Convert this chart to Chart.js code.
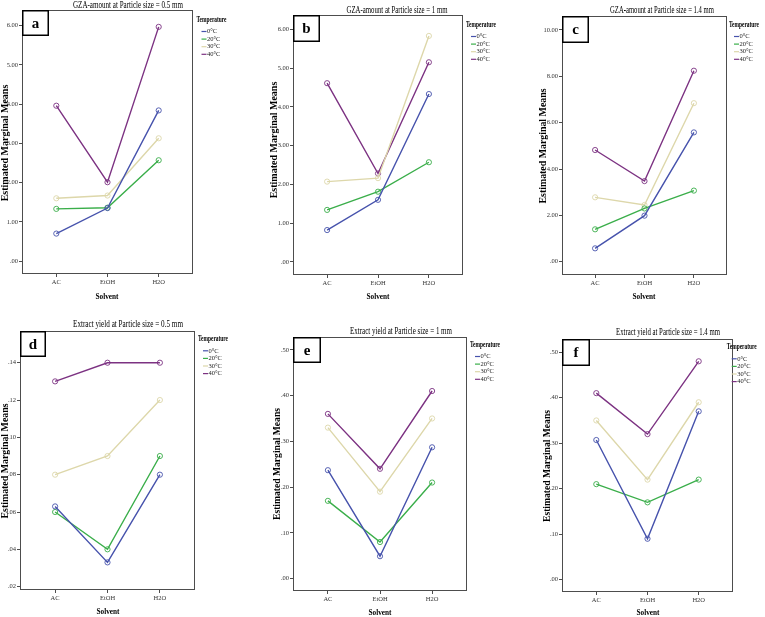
<!DOCTYPE html>
<html>
<head>
<meta charset="utf-8">
<script src="https://cdn.jsdelivr.net/npm/chart.js@4.4.1/dist/chart.umd.min.js"></script>
<style>
  body { margin: 0; background: #fff; }
  #wrap { position: relative; width: 765px; height: 617px; }
  #wrap canvas { position: absolute; left: 0; top: 0; }
</style>
</head>
<body>
<div id="wrap"></div>
<script>
// categories
const solvents = ['AC', 'EtOH', 'H2O'];
const temps = ['0°C', '20°C', '30°C', '40°C'];

// GZA-amount, one row per temperature (0, 20, 30, 40 °C)
const gza05 = [[0.70, 1.35, 3.84], [1.33, 1.36, 2.57], [1.60, 1.67, 3.13], [3.96, 2.01, 5.97]];
const gza1 = [[0.82, 1.60, 4.33], [1.34, 1.81, 2.57], [2.07, 2.16, 5.83], [4.61, 2.28, 5.15]];
const gza14 = [[0.58, 1.99, 5.58], [1.40, 2.30, 3.07], [2.78, 2.45, 6.84], [4.82, 3.48, 8.24]];

// extract yield
const yield05 = [[.063, .033, .080], [.060, .040, .090], [.080, .090, .120], [.130, .140, .140]];
const yield1 = [[.237, .049, .287], [.170, .080, .210], [.330, .190, .350], [.360, .240, .410]];
const yield14 = [[.307, .090, .370], [.210, .170, .220], [.350, .220, .390], [.410, .320, .480]];

// tick values
const ticksGza = [0, 1, 2, 3, 4, 5, 6];
const ticksGza14 = [0, 2, 4, 6, 8, 10];
const ticksYield05 = [.02, .04, .06, .08, .10, .12, .14];
const ticksYield = [0, .1, .2, .3, .4, .5];

const lineColors = ['#4652ac', '#3aae4a', '#ddd7aa', '#7c3282'];
const serif = "'Liberation Serif', 'DejaVu Serif', serif";

// spss style: .50 instead of 0.50
function spss(v) {
  return v.toFixed(2).replace(/^0\./, '.');
}

// draws text squeezed to a given width (the figure uses a narrow font)
function fitText(ctx, txt, x, y, w, font, rot) {
  ctx.save();
  ctx.font = font;
  const m = ctx.measureText(txt).width;
  ctx.translate(x, y);
  if (rot) ctx.rotate(-Math.PI / 2);
  ctx.scale(Math.min(1, w / m), 1);
  ctx.textAlign = 'center';
  ctx.textBaseline = 'middle';
  ctx.fillText(txt, 0, 0);
  ctx.restore();
}

function makeDecor(p) {
  return {
    id: 'decor',
    afterDraw(chart) {
      const ctx = chart.ctx;
      const a = chart.chartArea;
      ctx.save();
      // frame round the plot
      ctx.strokeStyle = '#4d4d4d';
      ctx.lineWidth = 1;
      ctx.strokeRect(a.left + 0.5, a.top + 0.5, a.right - a.left - 1, a.bottom - a.top - 1);

      // panel letter
      ctx.fillStyle = '#fff';
      ctx.fillRect(a.left, a.top, p.letterBox[0], p.letterBox[1]);
      ctx.strokeStyle = '#000';
      ctx.lineWidth = 1.5;
      ctx.strokeRect(a.left + 0.75, a.top + 0.75, p.letterBox[0] - 1.5, p.letterBox[1] - 1.5);
      ctx.fillStyle = '#000';
      ctx.font = 'bold 15px ' + serif;
      ctx.textAlign = 'center';
      ctx.textBaseline = 'middle';
      ctx.fillText(p.letter, a.left + p.letterBox[0] / 2, a.top + p.letterBox[1] / 2 + 1);

      // titles
      fitText(ctx, p.title, p.titlePos[0], p.titlePos[1], p.titlePos[2], '10px ' + serif);
      fitText(ctx, 'Estimated Marginal Means', p.yLab[0], p.yLab[1], p.yLab[2], 'bold 10px ' + serif, true);
      fitText(ctx, 'Solvent', p.xLab[0], p.xLab[1], 23, 'bold 9px ' + serif);

      // legend
      const lx = p.legend[0], ly = p.legend[1];
      ctx.fillStyle = '#000';
      fitText(ctx, 'Temperature', lx + 15, ly, 30, 'bold 8px ' + serif);
      temps.forEach((t, i) => {
        const y = ly + 11.5 + i * 7.6;
        ctx.strokeStyle = lineColors[i];
        ctx.lineWidth = 1.2;
        ctx.beginPath();
        ctx.moveTo(lx + 5, y);
        ctx.lineTo(lx + 10, y);
        ctx.stroke();
        ctx.fillStyle = '#222';
        ctx.font = '6.5px ' + serif;
        ctx.textAlign = 'left';
        ctx.textBaseline = 'middle';
        ctx.fillText(t, lx + 10.5, y);
      });
      ctx.restore();
    }
  };
}

const panels = [
  { letter: 'a', title: 'GZA-amount at Particle size = 0.5 mm', rows: gza05, ticks: ticksGza, yMin: -0.33, yMax: 6.4,
    box: [22, 10, 193, 274], titlePos: [128, 5, 110], legend: [196.5, 20], yLab: [5, 143, 117], xLab: [107, 297], letterBox: [27, 26] },
  { letter: 'b', title: 'GZA-amount at Particle size = 1 mm', rows: gza1, ticks: ticksGza, yMin: -0.34, yMax: 6.37,
    box: [293, 15, 463, 275], titlePos: [397, 10, 101], legend: [466, 25], yLab: [274, 140, 126], xLab: [378, 297], letterBox: [27, 27] },
  { letter: 'c', title: 'GZA-amount at Particle size = 1.4 mm', rows: gza14, ticks: ticksGza14, yMin: -0.57, yMax: 10.6,
    box: [562, 16, 727, 275], titlePos: [662, 10, 104], legend: [729, 25], yLab: [543, 146, 115], xLab: [644, 297], letterBox: [27, 27] },
  { letter: 'd', title: 'Extract yield at Particle size = 0.5 mm', rows: yield05, ticks: ticksYield05, yMin: .0182, yMax: .157,
    box: [20, 331, 195, 590], titlePos: [128, 324, 110], legend: [198, 339.3], yLab: [5, 461, 115], xLab: [108, 612], letterBox: [26, 26] },
  { letter: 'e', title: 'Extract yield at Particle size = 1 mm', rows: yield1, ticks: ticksYield, yMin: -.027, yMax: .528,
    box: [293, 337, 467, 591], titlePos: [401, 331, 102], legend: [470, 345], yLab: [277, 464, 112], xLab: [380, 613], letterBox: [28, 26] },
  { letter: 'f', title: 'Extract yield at Particle size = 1.4 mm', rows: yield14, ticks: ticksYield, yMin: -.027, yMax: .529,
    box: [562, 339, 733, 592], titlePos: [668, 332, 104], legend: [726.7, 347.3], yLab: [547, 466, 112], xLab: [648, 613], letterBox: [28, 27] }
];

const W = 765, H = 617;
const yAxisW = 18, xAxisH = 14;

panels.forEach(p => {
  const canvas = document.createElement('canvas');
  canvas.width = W;
  canvas.height = H;
  document.getElementById('wrap').appendChild(canvas);

  const datasets = p.rows.map((row, i) => ({
    label: temps[i],
    data: row.map((v, j) => ({ x: j, y: v })),
    borderColor: lineColors[i],
    borderWidth: 1.4,
    pointRadius: 2.6,
    pointBorderWidth: 0.9,
    pointBorderColor: lineColors[i],
    pointBackgroundColor: 'rgba(255,255,255,0)',
    tension: 0,
    fill: false
  }));

  new Chart(canvas.getContext('2d'), {
    type: 'line',
    data: { datasets },
    options: {
      responsive: false,
      animation: false,
      layout: {
        padding: {
          left: p.box[0] - yAxisW,
          top: p.box[1],
          right: W - p.box[2],
          bottom: H - p.box[3] - xAxisH
        }
      },
      plugins: { legend: { display: false }, tooltip: { enabled: false } },
      scales: {
        x: {
          type: 'linear',
          min: -0.67,
          max: 2.67,
          afterBuildTicks: s => { s.ticks = solvents.map((_, i) => ({ value: i })); },
          afterFit: s => { s.height = xAxisH; },
          grid: { drawOnChartArea: false, drawTicks: true, tickLength: 3, color: '#4d4d4d' },
          border: { display: false },
          ticks: {
            padding: 1,
            maxRotation: 0,
            color: '#333',
            font: { family: serif, size: 6.5 },
            callback: v => solvents[v]
          }
        },
        y: {
          min: p.yMin,
          max: p.yMax,
          afterBuildTicks: s => { s.ticks = p.ticks.map(v => ({ value: v })); },
          afterFit: s => { s.width = yAxisW; },
          grid: { drawOnChartArea: false, drawTicks: true, tickLength: 3, color: '#4d4d4d' },
          border: { display: false },
          ticks: {
            padding: 1,
            color: '#333',
            font: { family: serif, size: 6.5 },
            callback: v => spss(v)
          }
        }
      }
    },
    plugins: [makeDecor(p)]
  });
});
</script>
</body>
</html>
